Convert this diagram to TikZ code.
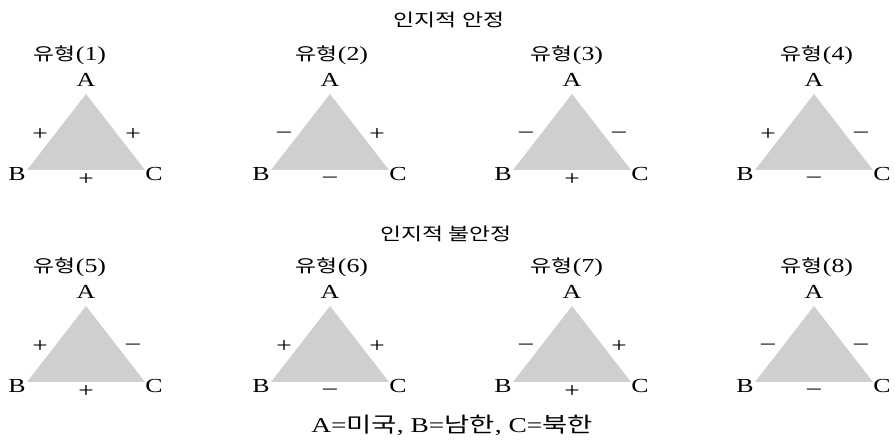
\documentclass[tikz,border=0pt]{standalone}
\usepackage{fontspec}
\setmainfont{Liberation Serif}[FakeStretch=1.3]
\newfontfamily\kr{Noto Sans CJK KR}[FakeStretch=1.3]
\definecolor{trigray}{RGB}{207,207,207}
\newcommand{\krs}[1]{{\kr\fontsize{15}{18}\selectfont #1}}

\begin{document}
\begin{tikzpicture}[x=0.3mm,y=-0.3mm, % 1 unité = 1 pixel de l'image, y vers le bas
  every node/.style={inner sep=0pt, font=\fontsize{17}{20}\selectfont},
  head/.style={font=\fontsize{15}{18}\selectfont\kr},
  sgn/.style={font=\fontsize{18}{20}\selectfont}]

\useasboundingbox (0,0) rectangle (895,446);

% --------- PARAMÈTRES ----------
\def\hb{59}     % demi-base du triangle
\def\haut{76}   % hauteur du triangle
% --------------------------------

% Titres des deux rangées
\node[head] (h1) at (449,20) {인지적 안정};
\node[head] (h2) at (446,234) {인지적 불안정};

% Triangles : numéro / centre x / sommet y / décalage du titre / signes AB, AC, BC
\foreach \n/\cx/\ya/\dx/\sab/\sac/\sbc in {
    1/86/94/-16/+/+/+,   2/330/94/2/–/+/–,   3/572/94/-5/–/–/+,   4/814/94/3/+/–/–,
    5/86/306/-16/+/–/+,  6/330/306/2/+/+/–,  7/572/306/-5/–/+/+,  8/814/306/3/–/–/–}{
  \coordinate (A\n) at (\cx,\ya);
  \coordinate (B\n) at (\cx-\hb,\ya+\haut);
  \coordinate (C\n) at (\cx+\hb,\ya+\haut);
  \fill[trigray] (A\n) -- (B\n) -- (C\n) -- cycle;

  \node (t\n) at (\cx+\dx,\ya-39) {\krs{유형}(\n)};
  \node (la\n) at (\cx,\ya-14) {A};
  \node (lb\n) at (\cx-69,\ya+\haut+4) {B};
  \node (lc\n) at (\cx+68,\ya+\haut+4) {C};

  % signes des relations
  \node[sgn] (ab\n) at (\cx-46,\ya+41) {\sab};
  \node[sgn] (ac\n) at (\cx+47,\ya+41) {\sac};
  \node[sgn] (bc\n) at (\cx,\ya+\haut+10) {\sbc};
}

% Légende
\node[font=\fontsize{18}{20}\selectfont] (leg) at (452,425) {A={\kr 미국}, B={\kr 남한}, C={\kr 북한}};

\end{tikzpicture}
\end{document}
